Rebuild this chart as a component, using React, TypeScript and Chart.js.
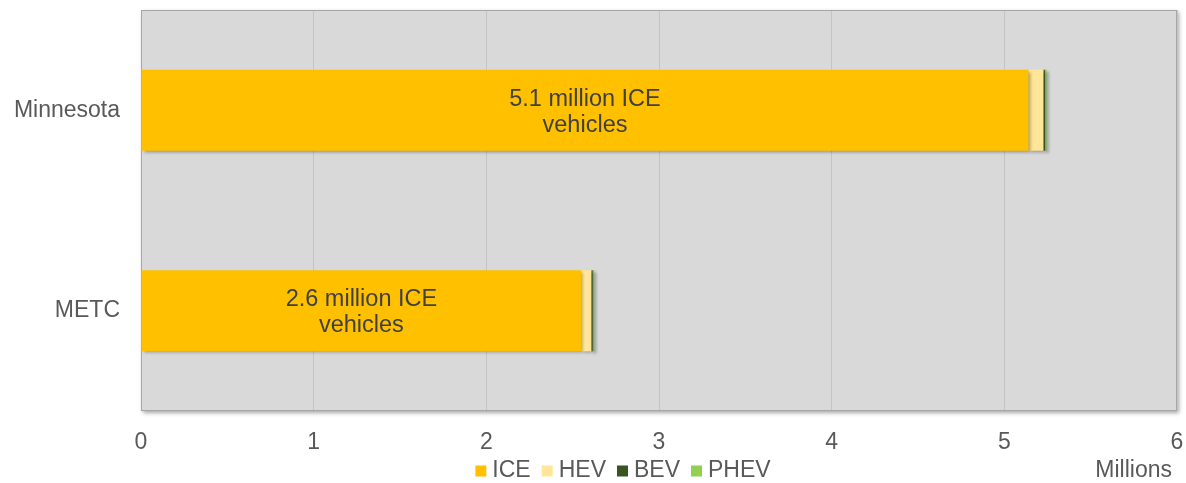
import React, { useEffect, useRef } from "react";
import { Chart, registerables } from "chart.js";

Chart.register(...registerables);

const categories = ["Minnesota", "METC"];
const iceValues = [5.14, 2.55];
const hevValues = [0.086, 0.058];
const bevValues = [0.009, 0.008];
const phevValues = [0.01, 0.009];
const barLabels = [
  ["5.1 million ICE", "vehicles"],
  ["2.6 million ICE", "vehicles"],
];
const xTicks = [0, 1, 2, 3, 4, 5, 6];
const unitLabel = "Millions";

const FONT = "'Liberation Sans', Arial, sans-serif";

const plotBgPlugin = {
  id: "plotBg",
  beforeDraw(chart: any) {
    const { ctx, chartArea: a } = chart;
    ctx.save();
    ctx.shadowColor = "rgba(0,0,0,0.35)";
    ctx.shadowBlur = 4;
    ctx.shadowOffsetX = 2;
    ctx.shadowOffsetY = 2;
    ctx.fillStyle = "#d9d9d9";
    ctx.fillRect(a.left, a.top, a.right - a.left, a.bottom - a.top);
    ctx.restore();
  },
  beforeDatasetsDraw(chart: any) {
    const { ctx, chartArea: a } = chart;
    ctx.save();
    ctx.strokeStyle = "#a6a6a6";
    ctx.lineWidth = 1;
    ctx.strokeRect(a.left + 0.5, a.top + 0.5, a.right - a.left - 1, a.bottom - a.top - 1);
    ctx.restore();
  },
  beforeDatasetDraw(chart: any) {
    const ctx = chart.ctx;
    ctx.save();
    ctx.shadowColor = "rgba(0,0,0,0.3)";
    ctx.shadowBlur = 3;
    ctx.shadowOffsetX = 2;
    ctx.shadowOffsetY = 2;
  },
  afterDatasetDraw(chart: any) {
    chart.ctx.restore();
  },
  afterDatasetsDraw(chart: any) {
    const { ctx } = chart;
    const meta = chart.getDatasetMeta(0);
    ctx.save();
    ctx.fillStyle = "#404040";
    ctx.font = `23.5px ${FONT}`;
    ctx.textAlign = "center";
    ctx.textBaseline = "middle";
    meta.data.forEach((bar: any, i: number) => {
      const cx = (bar.x + bar.base) / 2;
      const lines = barLabels[i];
      const lh = 26;
      const y0 = bar.y + 2 - ((lines.length - 1) * lh) / 2;
      lines.forEach((t, j) => ctx.fillText(t, cx, y0 + j * lh));
    });

    // unit label
    ctx.font = `23px ${FONT}`;
    ctx.fillStyle = "#595959";
    ctx.textAlign = "right";
    ctx.fillText(unitLabel, 1172, 471);

    // legend
    const ds = chart.data.datasets;
    const box = 11;
    const gap = 6;
    const spacing = 11;
    const widths = ds.map((d: any) => ctx.measureText(d.label).width);
    const total =
      ds.length * (box + gap) + widths.reduce((s: number, w: number) => s + w, 0) + (ds.length - 1) * spacing;
    let x = (chart.chartArea.left + chart.chartArea.right) / 2 - total / 2 - 36;
    const cy = 471;
    ctx.textAlign = "left";
    ds.forEach((d: any, i: number) => {
      ctx.fillStyle = d.backgroundColor;
      ctx.fillRect(x, cy - box / 2, box, box);
      x += box + gap;
      ctx.fillStyle = "#595959";
      ctx.fillText(d.label, x, cy);
      x += widths[i] + spacing;
    });
    ctx.restore();
  },
};

export default function App() {
  const ref = useRef<HTMLCanvasElement>(null);
  useEffect(() => {
    if (!ref.current) return;
    const chart = new Chart(ref.current, {
      type: "bar",
      data: {
        labels: categories,
        datasets: [
          { label: "ICE", data: iceValues, backgroundColor: "#FFC000" },
          { label: "HEV", data: hevValues, backgroundColor: "#FFE699" },
          { label: "BEV", data: bevValues, backgroundColor: "#375623" },
          { label: "PHEV", data: phevValues, backgroundColor: "#92D050" },
        ],
      },
      options: {
        indexAxis: "y",
        animation: false,
        responsive: false,
        maintainAspectRatio: false,
        datasets: { bar: { barPercentage: 0.405, categoryPercentage: 1, borderWidth: 0 } },
        layout: { padding: { top: 10, right: 9, left: 0, bottom: 0 } },
        scales: {
          x: {
            stacked: true,
            min: 0,
            max: 6,
            afterBuildTicks: (s: any) => {
              s.ticks = xTicks.map((v) => ({ value: v }));
            },
            afterFit: (s: any) => {
              s.height = 72;
              s.paddingLeft = 0;
              s.paddingRight = 0;
              s.paddingTop = 0;
              s.paddingBottom = 0;
            },
            grid: { color: "#c4c4c4", drawTicks: false },
            border: { display: false },
            ticks: {
              color: "#595959",
              font: { size: 23, family: FONT },
              padding: 18,
            },
          },
          y: {
            stacked: true,
            afterFit: (s: any) => {
              s.width = 141;
              s.paddingLeft = 0;
              s.paddingRight = 0;
              s.paddingTop = 0;
              s.paddingBottom = 0;
            },
            grid: { display: false, drawTicks: false },
            border: { display: false },
            ticks: {
              color: "#595959",
              font: { size: 23, family: FONT },
              padding: 21,
            },
          },
        },
        plugins: {
          legend: { display: false },
          tooltip: { enabled: false },
        },
      },
      plugins: [plotBgPlugin],
    });
    return () => chart.destroy();
  }, []);
  return (
    <div style={{ position: "absolute", left: 0, top: 0, width: 1186, height: 483 }}>
      <canvas ref={ref} width={1186} height={483} />
    </div>
  );
}
